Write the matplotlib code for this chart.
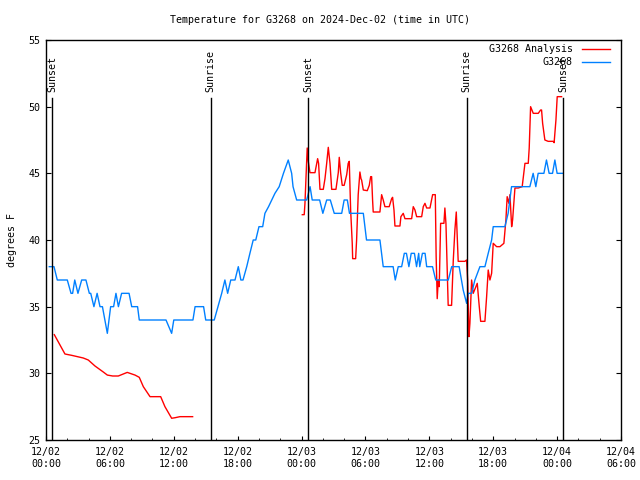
import numpy as np
import matplotlib
matplotlib.use('Agg')
import matplotlib.pyplot as plt

# hours since 2024-12-02 00:00 UTC
obs_hours = [0.31, 0.75, 1.06, 2.0, 2.35, 2.5, 2.7, 3.0, 3.35, 3.75, 4.07, 4.2, 4.5, 4.8,
             5.07, 5.3, 5.76, 6.07, 6.35, 6.57, 6.8, 7.1, 7.8, 8.05, 8.6, 8.76, 11.27, 11.8,
             12.0, 13.8, 14.0, 14.8, 15.0, 15.8, 16.15, 16.5, 16.8, 17.06, 17.35, 17.75,
             18.06, 18.3, 18.5, 18.85, 19.15, 19.46, 19.7, 20.0, 20.35, 20.56, 20.9, 21.2,
             21.5, 21.9, 22.3, 22.75, 23.07, 23.2, 23.54, 24.48, 24.8, 25.0, 25.7, 26.0,
             26.36, 26.7, 27.07, 27.77, 28.0, 28.3, 28.5, 29.8, 30.1, 31.36, 31.67, 32.6,
             32.8, 33.08, 33.4, 33.65, 33.85, 34.08, 34.3, 34.6, 34.8, 35.0, 35.1, 35.35,
             35.6, 35.75, 36.3, 36.6, 37.78, 38.1, 38.8, 39.18, 39.5, 39.65, 39.97, 40.28,
             40.75, 41.22, 41.53, 41.85, 42.0, 43.1, 43.4, 43.72, 45.44, 45.75, 46.0, 46.22,
             46.76, 47.0, 47.25, 47.57, 47.79, 48.0, 48.56]
obs_temps = [38, 38, 37, 37, 36, 36, 37, 36, 37, 37, 36, 36, 35, 36,
             35, 35, 33, 35, 35, 36, 35, 36, 36, 35, 35, 34, 34, 33,
             34, 34, 35, 35, 34, 34, 35, 36, 37, 36, 37, 37,
             38, 37, 37, 38, 39, 40, 40, 41, 41, 42, 42.5, 43,
             43.5, 44, 45, 46, 45, 44, 43, 43, 44, 43, 43, 42,
             43, 43, 42, 42, 43, 43, 42, 42, 40, 40, 38, 38,
             37, 38, 38, 39, 39, 38, 39, 39, 38, 39, 38, 39,
             39, 38, 38, 37, 37, 38, 38, 36.25, 35.25, 36, 36, 37,
             38, 38, 39, 40, 41, 41, 42, 44, 44, 45, 44, 45,
             45, 46, 45, 45, 46, 45, 45]

ana_hours = [0.78, 1.78, 2.41, 3.5, 3.97, 4.6, 5.38, 5.76, 6.26, 6.79, 7.63, 8.36, 8.76,
             9.14, 9.77, 10.77, 11.17, 11.8, 12.11, 12.58, 13.77, np.nan,
             24.07, 24.25, 24.32, 24.48, 24.53, 24.63, 24.79, 25.26, 25.42, 25.51, 25.6,
             25.73, 26.04, 26.2, 26.36, 26.51, 26.67, 26.83, 27.23, 27.45, 27.54, 27.67,
             27.82, 28.0, 28.24, 28.38, 28.48, 28.61, 28.76, 28.8, 29.08, 29.17, 29.32,
             29.48, 29.58, 29.64, 29.8, 30.17, 30.36, 30.49, 30.58, 30.67, 30.73, 31.36,
             31.52, 31.67, 31.83, 32.23, 32.46, 32.55, 32.68, 32.77, 33.24, 33.33, 33.55,
             33.71, 34.34, 34.49, 34.65, 34.81, 35.28, 35.43, 35.59, 35.75, 36.06, 36.31,
             36.56, 36.64, 36.74, 36.84, 36.93, 37.06, 37.37, 37.46, 37.56, 37.77, 38.09,
             38.25, 38.4, 38.53, 38.71, 39.34, 39.5, 39.6, 39.72, 39.81, 39.97, 40.12,
             40.5, 40.69, 40.82, 41.22, 41.38, 41.53, 41.69, 41.85, 42.0, 42.32, 42.63,
             43.0, 43.19, 43.31, 43.47, 43.57, 43.73, 43.82, 44.04, 44.35, 44.72, 44.98,
             45.29, 45.38, 45.51, 45.76, 46.23, 46.45, 46.54, 46.64, 46.85, 47.16, 47.63,
             47.72, 47.89, 48.01, 48.42]
ana_temps = [32.9, 31.45, 31.35, 31.15, 31.0, 30.55, 30.1, 29.87, 29.8, 29.8, 30.07, 29.87, 29.7,
             29.0, 28.25, 28.25, 27.5, 26.63, 26.67, 26.75, 26.75, np.nan,
             41.9, 41.9, 42.75, 46.0, 46.9, 45.9, 45.05, 45.05, 45.75, 46.1, 45.75,
             43.8, 43.8, 44.6, 45.75, 46.95, 45.75, 43.8, 43.8, 45.05, 46.2, 45.05,
             44.1, 44.1, 44.9, 45.75, 45.9, 42.25, 39.75, 38.6, 38.6, 40.0, 43.4,
             45.1, 44.6, 44.5, 43.75, 43.7, 44.1, 44.75, 44.75, 43.0, 42.1, 42.1,
             43.4, 43.0, 42.5, 42.5, 43.1, 43.2, 42.25, 41.05, 41.05, 41.75, 42.0,
             41.6, 41.6, 42.5, 42.25, 41.75, 41.75, 42.5, 42.75, 42.4, 42.4, 43.4,
             43.4, 38.75, 35.6, 37.0, 36.5, 41.25, 41.25, 42.4, 41.25, 35.1, 35.1,
             38.5, 40.75, 42.1, 38.4, 38.4, 38.5, 37.0, 32.75, 33.75, 37.0, 36.0,
             36.75, 35.0, 33.9, 33.9, 35.75, 37.75, 37.0, 37.5, 39.75, 39.5, 39.5,
             39.75, 41.5, 43.25, 42.75, 43.4, 41.0, 41.5, 43.9, 43.9, 44.0, 45.75,
             45.75, 46.9, 50.0, 49.5, 49.5, 49.75, 49.75, 48.75, 47.5, 47.4, 47.4,
             47.3, 49.0, 50.75, 50.75]

sun_hours = [0.59, 15.46, 24.63, 39.5, 48.57]
sun_labels = ['Sunset', 'Sunrise', 'Sunset', 'Sunrise', 'Sunset']

tick_hours = [0, 6, 12, 18, 24, 30, 36, 42, 48, 54]
tick_labels = ['12/02\n00:00', '12/02\n06:00', '12/02\n12:00', '12/02\n18:00',
               '12/03\n00:00', '12/03\n06:00', '12/03\n12:00', '12/03\n18:00',
               '12/04\n00:00', '12/04\n06:00']

plt.rcParams['font.family'] = 'DejaVu Sans Mono'
plt.rcParams['font.size'] = 7.2

fig = plt.figure(figsize=(6.4, 4.8), dpi=100)
ax = fig.add_axes([46/640, 40/480, 575/640, 400/480])

ax.plot(ana_hours, ana_temps, color='#ff0000', lw=1)
ax.plot(obs_hours, obs_temps, color='#0080ff', lw=1)

for h, lab in zip(sun_hours, sun_labels):
    ax.plot([h, h], [0, 342/400], color='black', lw=1, transform=ax.get_xaxis_transform())
    ax.text(h, 348/400, lab, rotation=90, ha='center', va='bottom',
            transform=ax.get_xaxis_transform())

ax.set_xlim(0, 54)
ax.set_ylim(25, 55)
ax.set_xticks(tick_hours)
ax.set_xticklabels(tick_labels)
ax.set_xticks(np.arange(0, 54, 2), minor=True)
ax.set_yticks(np.arange(25, 56, 5))
ax.tick_params(axis='x', which='major', direction='in', length=3, pad=5, top=False)
ax.tick_params(axis='x', which='minor', direction='in', length=1.5, top=False)
ax.tick_params(axis='y', direction='in', length=3.5, pad=4, right=True)
for s in ax.spines.values():
    s.set_linewidth(1)

ax.set_ylabel('degrees F', labelpad=8)
fig.text(0.5, 1 - 20/480, 'Temperature for G3268 on 2024-Dec-02 (time in UTC)',
         ha='center', va='center')

# legend drawn by hand so the text sits right-aligned next to the sample line
ax.text(0.9165, 0.9775, 'G3268 Analysis', ha='right', va='center', transform=ax.transAxes)
ax.text(0.9165, 0.945, 'G3268', ha='right', va='center', transform=ax.transAxes)
ax.plot([0.932, 0.981], [0.9775, 0.9775], color='#ff0000', lw=1, transform=ax.transAxes)
ax.plot([0.932, 0.981], [0.945, 0.945], color='#0080ff', lw=1, transform=ax.transAxes)

fig.savefig('out.png', dpi=100)
